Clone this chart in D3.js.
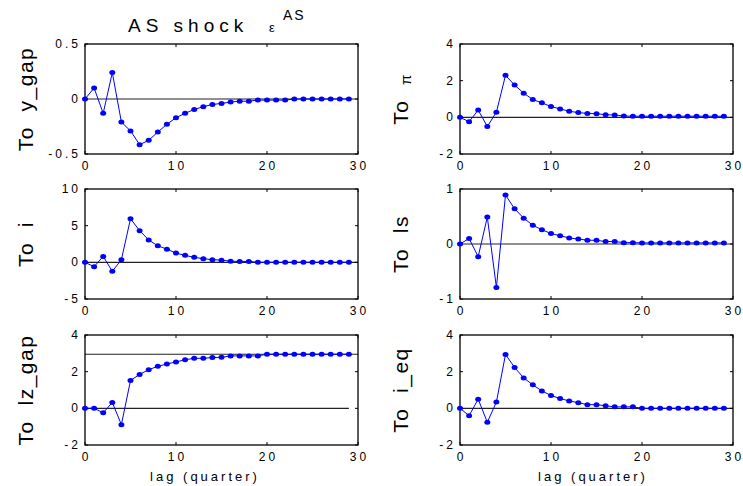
<!DOCTYPE html>
<html>
<head>
<meta charset="utf-8">
<script src="https://cdn.jsdelivr.net/npm/d3@7"></script>
<style>
  body { margin: 0; background: #fff; }
  text { font-family: "Liberation Sans", Arial, sans-serif; fill: #000; white-space: pre; }
</style>
</head>
<body>
<div id="chart"></div>
<script>
// impulse responses to the AS shock, lag 0..29
const lags = [0, 1, 2, 3, 4, 5, 6, 7, 8, 9, 10, 11, 12, 13, 14, 15, 16, 17, 18, 19,
    20, 21, 22, 23, 24, 25, 26, 27, 28, 29];

const yGap = [0, 0.10, -0.13, 0.24, -0.21, -0.29, -0.415, -0.376, -0.30, -0.23,
    -0.17, -0.13, -0.095, -0.07, -0.05, -0.04, -0.028, -0.02, -0.02, -0.01,
    -0.01, -0.01, -0.01, 0, 0, 0, 0, 0, 0, 0];

const piResp = [0, -0.24, 0.40, -0.50, 0.28, 2.29, 1.76, 1.32, 0.97, 0.79,
    0.59, 0.46, 0.33, 0.26, 0.21, 0.20, 0.14, 0.13, 0.07, 0.06,
    0.06, 0.06, 0.06, 0.06, 0.06, 0.06, 0.06, 0.06, 0.06, 0.06];

const iResp = [0, -0.59, 0.81, -1.22, 0.36, 5.95, 4.32, 3.06, 2.25, 1.80,
    1.26, 0.95, 0.68, 0.50, 0.36, 0.30, 0.15, 0.12, 0.12, 0,
    0, 0, 0, 0, 0, 0, 0, 0, 0, 0];

const lsResp = [0, 0.10, -0.23, 0.49, -0.79, 0.89, 0.64, 0.47, 0.34, 0.26,
    0.19, 0.15, 0.11, 0.09, 0.07, 0.066, 0.045, 0.045, 0.025, 0.025,
    0.02, 0.02, 0.02, 0.02, 0.02, 0.02, 0.02, 0.02, 0.02, 0.02];

const lzGap = [0, 0, -0.24, 0.32, -0.89, 1.52, 1.85, 2.11, 2.29, 2.42,
    2.53, 2.65, 2.73, 2.73, 2.77, 2.78, 2.86, 2.86, 2.86, 2.86,
    2.95, 2.95, 2.95, 2.95, 2.95, 2.95, 2.95, 2.95, 2.95, 2.95];
const lzGapLongRun = 2.95;

const iEq = [0, -0.40, 0.50, -0.76, 0.34, 2.94, 2.23, 1.66, 1.28, 0.95,
    0.70, 0.54, 0.40, 0.31, 0.20, 0.20, 0.14, 0.08, 0.08, 0.08,
    0, 0, 0, 0, 0, 0, 0, 0, 0, 0];

const xTicks = [0, 10, 20, 30];

const W = 743, H = 486;
const colX = [85, 460];
const rowY = [44, 189, 335];
const pw = 273, ph = 110;

const panels = [
    {name: "y_gap", values: yGap, domain: [-0.5, 0.5], ticks: [-0.5, 0, 0.5], col: 0, row: 0},
    {name: "\u03c0", values: piResp, domain: [-2, 4], ticks: [-2, 0, 2, 4], col: 1, row: 0, symbol: true},
    {name: "i", values: iResp, domain: [-5, 10], ticks: [-5, 0, 5, 10], col: 0, row: 1},
    {name: "ls", values: lsResp, domain: [-1, 1], ticks: [-1, 0, 1], col: 1, row: 1},
    {name: "lz_gap", values: lzGap, domain: [-2, 4], ticks: [-2, 0, 2, 4], col: 0, row: 2, longRun: lzGapLongRun},
    {name: "i_eq", values: iEq, domain: [-2, 4], ticks: [-2, 0, 2, 4], col: 1, row: 2}
];

const svg = d3.select("#chart").append("svg")
    .attr("width", W)
    .attr("height", H);

const tickLS = 3;

panels.forEach(function (p) {
    const x0 = colX[p.col], y0 = rowY[p.row];
    const g = svg.append("g").attr("transform", "translate(" + x0 + "," + y0 + ")");

    const x = d3.scaleLinear().domain([0, 30]).range([0, pw]);
    const y = d3.scaleLinear().domain(p.domain).range([ph, 0]);

    // zero line (and long run level)
    g.append("line")
        .attr("x1", x(0)).attr("x2", p.longRun !== undefined ? x(29) : x(30))
        .attr("y1", y(0)).attr("y2", y(0))
        .attr("stroke", "#222").attr("stroke-width", 1.2);
    if (p.longRun !== undefined) {
        g.append("line")
            .attr("x1", x(0)).attr("x2", x(30))
            .attr("y1", y(p.longRun)).attr("y2", y(p.longRun))
            .attr("stroke", "#222").attr("stroke-width", 1.2);
    }

    // box
    g.append("rect")
        .attr("x", 0).attr("y", 0).attr("width", pw).attr("height", ph)
        .attr("fill", "none").attr("stroke", "#000").attr("stroke-width", 1.3);

    // inward ticks
    xTicks.forEach(function (t) {
        g.append("line").attr("x1", x(t)).attr("x2", x(t)).attr("y1", ph).attr("y2", ph - 3)
            .attr("stroke", "#000");
        g.append("line").attr("x1", x(t)).attr("x2", x(t)).attr("y1", 0).attr("y2", 3)
            .attr("stroke", "#000");
        g.append("text")
            .attr("x", x(t) + tickLS / 2).attr("y", ph + 16)
            .attr("text-anchor", "middle")
            .style("font-size", "12px").style("letter-spacing", tickLS + "px")
            .text(t);
    });
    p.ticks.forEach(function (t) {
        g.append("line").attr("x1", 0).attr("x2", 3).attr("y1", y(t)).attr("y2", y(t))
            .attr("stroke", "#000");
        g.append("line").attr("x1", pw).attr("x2", pw - 3).attr("y1", y(t)).attr("y2", y(t))
            .attr("stroke", "#000");
        g.append("text")
            .attr("x", -7 + tickLS).attr("y", y(t) + 4)
            .attr("text-anchor", "end")
            .style("font-size", "12px").style("letter-spacing", tickLS + "px")
            .text(String(t));
    });

    // response line + markers
    const line = d3.line()
        .x(function (d, i) { return x(lags[i]); })
        .y(function (d) { return y(d); });
    g.append("path")
        .datum(p.values)
        .attr("d", line)
        .attr("fill", "none")
        .attr("stroke", "#0000ff")
        .attr("stroke-width", 1);
    g.selectAll(".dot")
        .data(p.values)
        .enter().append("ellipse")
        .attr("class", "dot")
        .attr("cx", function (d, i) { return x(lags[i]); })
        .attr("cy", function (d) { return y(d); })
        .attr("rx", 3).attr("ry", 2.5)
        .attr("fill", "#0000ff");

    // y label
    const lab = svg.append("text")
        .attr("transform", "translate(" + (x0 - 52) + "," + (y0 + ph / 2) + ") rotate(-90)")
        .attr("text-anchor", "middle")
        .style("font-size", "21px")
        .style("letter-spacing", "1.5px");
    lab.append("tspan").text("To  ");
    if (p.symbol) {
        lab.append("tspan").style("font-size", "15px").attr("dy", 3).text(p.name);
    } else {
        lab.append("tspan").text(p.name);
    }
});

// title
const title = svg.append("text")
    .attr("x", 128).attr("y", 32)
    .style("font-size", "19px")
    .style("letter-spacing", "5px");
title.append("tspan").text("AS shock");
title.append("tspan").attr("x", 269).style("font-size", "13px").style("letter-spacing", "0px").text("\u03b5");
title.append("tspan").attr("x", 283).attr("dy", -12).style("font-size", "14px").style("letter-spacing", "2px").text("AS");

// x labels
[0, 1].forEach(function (c) {
    svg.append("text")
        .attr("x", c === 0 ? 205 : 593).attr("y", 481)
        .attr("text-anchor", "middle")
        .style("font-size", "13px")
        .style("letter-spacing", "3px")
        .text("lag (quarter)");
});
</script>
</body>
</html>
